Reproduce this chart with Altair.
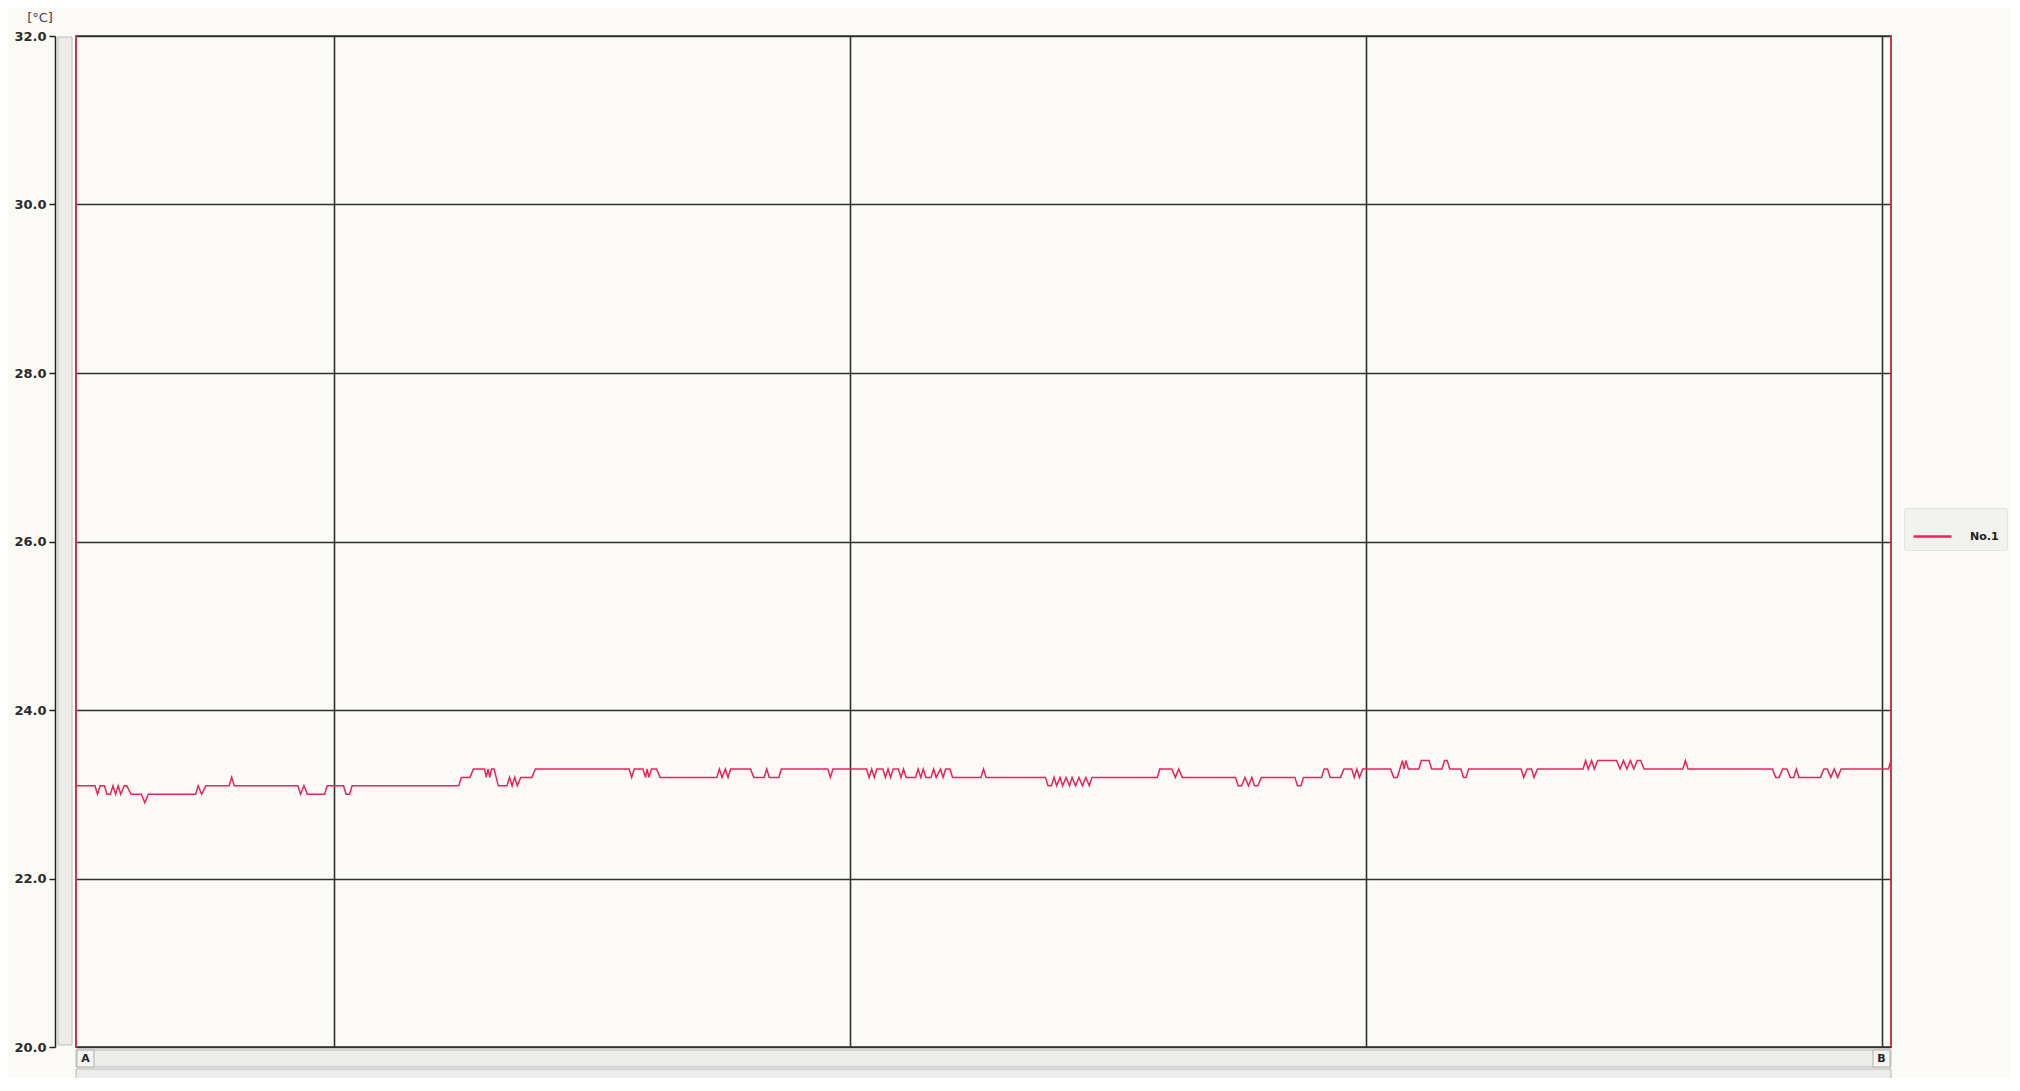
import altair as alt
import pandas as pd

# ---- data (time in minutes, temperature in degC) ----
minutes = [
    0, 2.2, 2.5, 2.8, 3.3, 3.6, 4.0, 4.3, 4.6, 4.9, 5.2, 5.6, 5.9, 6.4, 7.6, 8.0, 8.4,
    13.9, 14.2, 14.6, 15.1, 17.8, 18.1, 18.4, 25.8, 26.1, 26.5, 26.9, 28.9, 29.2,
    31.1, 31.4, 31.8, 32.1, 44.5, 44.8, 45.8, 46.2, 47.5, 47.7, 47.9, 48.1, 48.3, 48.6,
    49.1, 50.1, 50.4, 50.7, 51.0, 51.3, 51.7, 53.0, 53.4,
    64.3, 64.6, 64.9, 65.9, 66.2, 66.4, 66.6, 66.9, 67.5, 67.9,
    74.5, 74.8, 75.1, 75.5, 75.8, 76.1, 78.4, 78.8, 80.0, 80.3, 80.6, 81.7, 82.0,
    87.4, 87.7, 88.0, 91.9, 92.2, 92.5, 92.8, 93.1, 93.8, 94.1, 94.4, 94.7, 95.0,
    95.6, 95.9, 96.2, 96.5, 97.6, 97.9, 98.2, 98.5, 98.8, 99.4, 99.7, 100.0, 100.5,
    100.8, 101.1, 101.6, 101.9, 105.2, 105.5, 105.8,
    112.7, 113.0, 113.4, 113.7, 114.0, 114.4, 114.7, 115.1, 115.5, 115.8, 116.2, 116.6,
    117.0, 117.4, 117.8, 118.1, 125.7, 126.0, 127.4, 127.8, 128.2, 128.6,
    134.8, 135.1, 135.5, 135.9, 136.3, 136.7, 137.0, 137.4, 137.8, 141.7, 142.0, 142.4,
    142.7, 144.8, 145.1, 145.5, 145.8, 147.0, 147.4, 148.3, 148.6, 148.9, 149.2, 149.6,
    152.8, 153.2, 153.6, 153.9, 154.2, 154.4, 154.6, 154.9, 156.1, 156.4, 157.3, 157.6,
    158.8, 159.1, 159.4, 159.7, 161.0, 161.3, 161.6, 161.9, 168.0, 168.3, 168.7, 169.2,
    169.5, 169.9, 175.2, 175.5, 175.8, 176.2, 176.5, 176.9, 179.1, 179.5, 179.9, 180.3,
    180.7, 181.1, 181.5, 181.9, 182.3, 186.8, 187.1, 187.4, 197.2, 197.6, 198.0, 198.4,
    198.9, 199.3, 199.7, 200.0, 200.3, 202.8, 203.2, 203.6, 204.0, 204.4, 204.8, 205.2,
    210.7, 211.0,
]
temps = [
    23.1, 23.1, 23.0, 23.1, 23.1, 23.0, 23.0, 23.1, 23.0, 23.1, 23.0, 23.1, 23.1, 23.0, 23.0, 22.9, 23.0,
    23.0, 23.1, 23.0, 23.1, 23.1, 23.2, 23.1, 23.1, 23.0, 23.1, 23.0, 23.0, 23.1,
    23.1, 23.0, 23.0, 23.1, 23.1, 23.2, 23.2, 23.3, 23.3, 23.2, 23.3, 23.2, 23.3, 23.3,
    23.1, 23.1, 23.2, 23.1, 23.2, 23.1, 23.2, 23.2, 23.3,
    23.3, 23.2, 23.3, 23.3, 23.2, 23.3, 23.2, 23.3, 23.3, 23.2,
    23.2, 23.3, 23.2, 23.3, 23.2, 23.3, 23.3, 23.2, 23.2, 23.3, 23.2, 23.2, 23.3,
    23.3, 23.2, 23.3, 23.3, 23.2, 23.3, 23.2, 23.3, 23.3, 23.2, 23.3, 23.2, 23.3,
    23.3, 23.2, 23.3, 23.2, 23.2, 23.3, 23.2, 23.3, 23.2, 23.2, 23.3, 23.2, 23.3,
    23.2, 23.3, 23.3, 23.2, 23.2, 23.3, 23.2,
    23.2, 23.1, 23.1, 23.2, 23.1, 23.2, 23.1, 23.2, 23.1, 23.2, 23.1, 23.2,
    23.1, 23.2, 23.1, 23.2, 23.2, 23.3, 23.3, 23.2, 23.3, 23.2,
    23.2, 23.1, 23.1, 23.2, 23.1, 23.2, 23.1, 23.1, 23.2, 23.2, 23.1, 23.1,
    23.2, 23.2, 23.3, 23.3, 23.2, 23.2, 23.3, 23.3, 23.2, 23.3, 23.2, 23.3,
    23.3, 23.2, 23.2, 23.3, 23.4, 23.3, 23.4, 23.3, 23.3, 23.4, 23.4, 23.3,
    23.3, 23.4, 23.4, 23.3, 23.3, 23.2, 23.2, 23.3, 23.3, 23.2, 23.3, 23.3,
    23.2, 23.3, 23.3, 23.4, 23.3, 23.4, 23.3, 23.4, 23.4, 23.3, 23.4, 23.3,
    23.4, 23.3, 23.4, 23.4, 23.3, 23.3, 23.4, 23.3, 23.3, 23.2, 23.2, 23.3,
    23.3, 23.2, 23.2, 23.3, 23.2, 23.2, 23.3, 23.3, 23.2, 23.3, 23.2, 23.3,
    23.3, 23.4,
]
series_name = "No.1"
cursor_minutes = [0, 211]
y_ticks = [20.0, 22.0, 24.0, 26.0, 28.0, 30.0, 32.0]
x_grid = [30, 90, 150, 210]
x_domain = [0, 211]
y_domain = [20, 32]

# ---- styling ----
W, H = 1815, 1011
BG = "#fbfaf6"
GRID = "#303030"
RED = "#e2265c"
CURSOR = "#e3343f"
FONT = "DejaVu Sans"

df = pd.DataFrame({"minute": minutes, "temp": temps, "series": series_name})
one = pd.DataFrame({"k": [0]})

x_enc = alt.X(
    "minute:Q",
    scale=alt.Scale(domain=x_domain, nice=False, zero=False),
    axis=alt.Axis(values=x_grid, grid=True, labels=False, ticks=False, domain=False,
                  title=None, gridColor=GRID, gridWidth=1.6, gridOpacity=1),
)
y_enc = alt.Y(
    "temp:Q",
    scale=alt.Scale(domain=y_domain, nice=False, zero=False),
    axis=alt.Axis(values=y_ticks, format=".1f", offset=21, grid=True, title=None,
                  gridColor=GRID, gridWidth=1.6, gridOpacity=1,
                  domainColor="#222222", domainWidth=1.5,
                  tickColor="#222222", tickWidth=1.5, tickSize=6,
                  labelFont=FONT, labelFontSize=13, labelFontWeight="bold",
                  labelColor="#2b2b2b", labelPadding=3),
)

line = alt.Chart(df).mark_line(strokeWidth=1.5, interpolate="linear").encode(
    x=x_enc,
    y=y_enc,
    color=alt.Color(
        "series:N",
        scale=alt.Scale(domain=[series_name], range=[RED]),
        legend=alt.Legend(
            title=None, orient="none", legendX=1828, legendY=472,
            symbolType="stroke", symbolSize=1444, symbolStrokeWidth=2.5,
            labelFont=FONT, labelFontSize=11, labelFontWeight="bold",
            labelColor="#222222", labelOffset=17,
            fillColor="#f1f1ee", strokeColor="#e2e2e0", padding=8, cornerRadius=2,
        ),
    ),
)

cursors = alt.Chart(pd.DataFrame({"minute": cursor_minutes})).mark_rule(
    color=CURSOR, strokeWidth=1.6
).encode(x=x_enc)

# vertical scroll strip left of the plot
vstrip = alt.Chart(one).mark_rect(fill="#ebebea", stroke="#bdbdbd", strokeWidth=1).encode(
    x=alt.value(-18), x2=alt.value(-4), y=alt.value(1), y2=alt.value(1009)
)
# horizontal bars below the plot
hbar1 = alt.Chart(one).mark_rect(fill="#ececeb", stroke="#b8b8b8", strokeWidth=1).encode(
    x=alt.value(0), x2=alt.value(W), y=alt.value(1014), y2=alt.value(1031)
)
hbar2 = alt.Chart(one).mark_rect(fill="#ececeb", stroke="#b8b8b8", strokeWidth=1).encode(
    x=alt.value(0), x2=alt.value(W), y=alt.value(1033), y2=alt.value(1050)
)
boxA = alt.Chart(one).mark_rect(fill="#f4f4f2", stroke="#b0b0b0", strokeWidth=1).encode(
    x=alt.value(1), x2=alt.value(18), y=alt.value(1014), y2=alt.value(1031)
)
boxB = alt.Chart(one).mark_rect(fill="#f4f4f2", stroke="#b0b0b0", strokeWidth=1).encode(
    x=alt.value(W - 18), x2=alt.value(W - 1), y=alt.value(1014), y2=alt.value(1031)
)
txtA = alt.Chart(one).mark_text(text="A", font=FONT, fontSize=11, fontWeight="bold",
                                color="#222222").encode(x=alt.value(9.5), y=alt.value(1023))
txtB = alt.Chart(one).mark_text(text="B", font=FONT, fontSize=11, fontWeight="bold",
                                color="#222222").encode(x=alt.value(W - 9.5), y=alt.value(1023))
unit = alt.Chart(one).mark_text(text="[°C]", font=FONT, fontSize=13,
                                color="#3b4150").encode(x=alt.value(-36), y=alt.value(-18))

chart = alt.layer(
    line, cursors, vstrip, hbar1, hbar2, boxA, boxB, txtA, txtB, unit
).properties(
    width=W,
    height=H,
    autosize=alt.AutoSizeParams(type="none"),
    padding={"left": 68, "top": 28, "right": 120, "bottom": 31},
    background=BG,
).configure_view(
    stroke=GRID, strokeWidth=1.6, fill=BG
)

chart.save("out.html", embed_options={"renderer": "svg", "actions": False})
